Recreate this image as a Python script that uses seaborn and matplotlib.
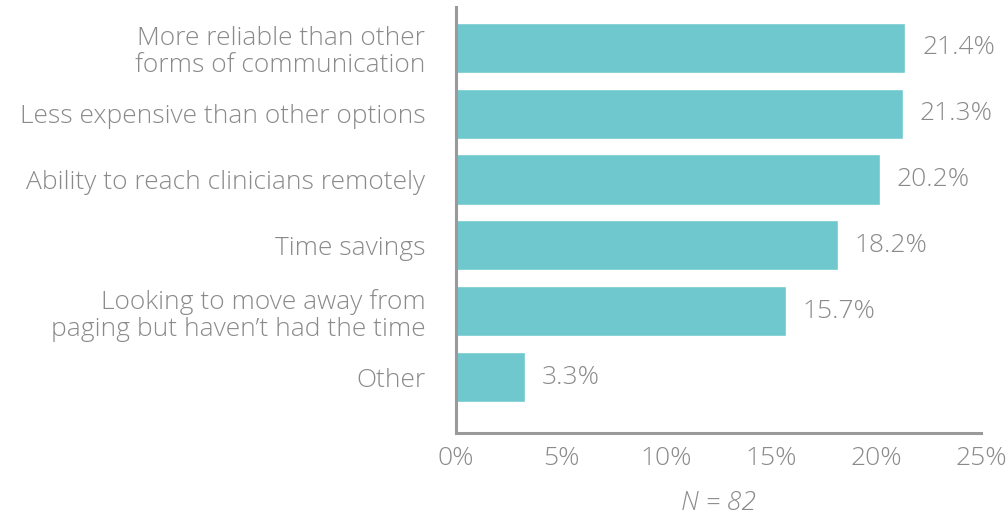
import matplotlib
matplotlib.use("Agg")
import matplotlib.pyplot as plt
import seaborn as sns
import pandas as pd

categories = [
    "More reliable than other\nforms of communication",
    "Less expensive than other options",
    "Ability to reach clinicians remotely",
    "Time savings",
    "Looking to move away from\npaging but haven\u2019t had the time",
    "Other",
]
values = [21.4, 21.3, 20.2, 18.2, 15.7, 3.3]
xticks = [0, 5, 10, 15, 20, 25]
xtick_labels = ["0%", "5%", "10%", "15%", "20%", "25%"]

sns.set_theme(style="white")
plt.rcParams['font.family'] = ['Open Sans', 'DejaVu Sans']

TXT = "#8a8a8a"
SPINE = "#9a9a9a"
BAR = "#6fc8ce"
FS = 19

df = pd.DataFrame({"cat": categories, "val": values})

fig = plt.figure(figsize=(10.08, 5.18), dpi=100)
ax = fig.add_axes([0.4524, 0.164, 0.5208, 0.8225])
sns.barplot(data=df, y="cat", x="val", color=BAR, saturation=1, width=0.76, ax=ax, orient="h")

ax.set_xlim(0, 25)
ax.set_ylim(5.85, -0.62)
ax.set_xticks(xticks)
ax.set_xticklabels(xtick_labels)
ax.set_xlabel("")
ax.set_ylabel("")
for s in ["top", "right"]:
    ax.spines[s].set_visible(False)
for s in ["left", "bottom"]:
    ax.spines[s].set_color(SPINE)
    ax.spines[s].set_linewidth(2.2)
ax.tick_params(axis="x", direction="in", length=12, width=1, color=SPINE,
               labelsize=FS, labelcolor=TXT, pad=9)
ax.tick_params(axis="y", length=0, labelsize=FS, labelcolor=TXT, pad=22)
for lab in ax.get_xticklabels() + ax.get_yticklabels():
    lab.set_fontweight("light")
    lab.set_linespacing(1.1)

for i, v in enumerate(values):
    ax.annotate(f"{v:.1f}%", xy=(v, i), xytext=(12, 0), textcoords="offset points",
                va="center", ha="left", fontsize=FS, color=TXT, fontweight="light")

ax.text(0.5, -0.165, "N = 82", transform=ax.transAxes, ha="center", va="center",
        fontsize=FS, color=TXT, style="italic", fontweight="light")

fig.savefig("out.png", dpi=100)
